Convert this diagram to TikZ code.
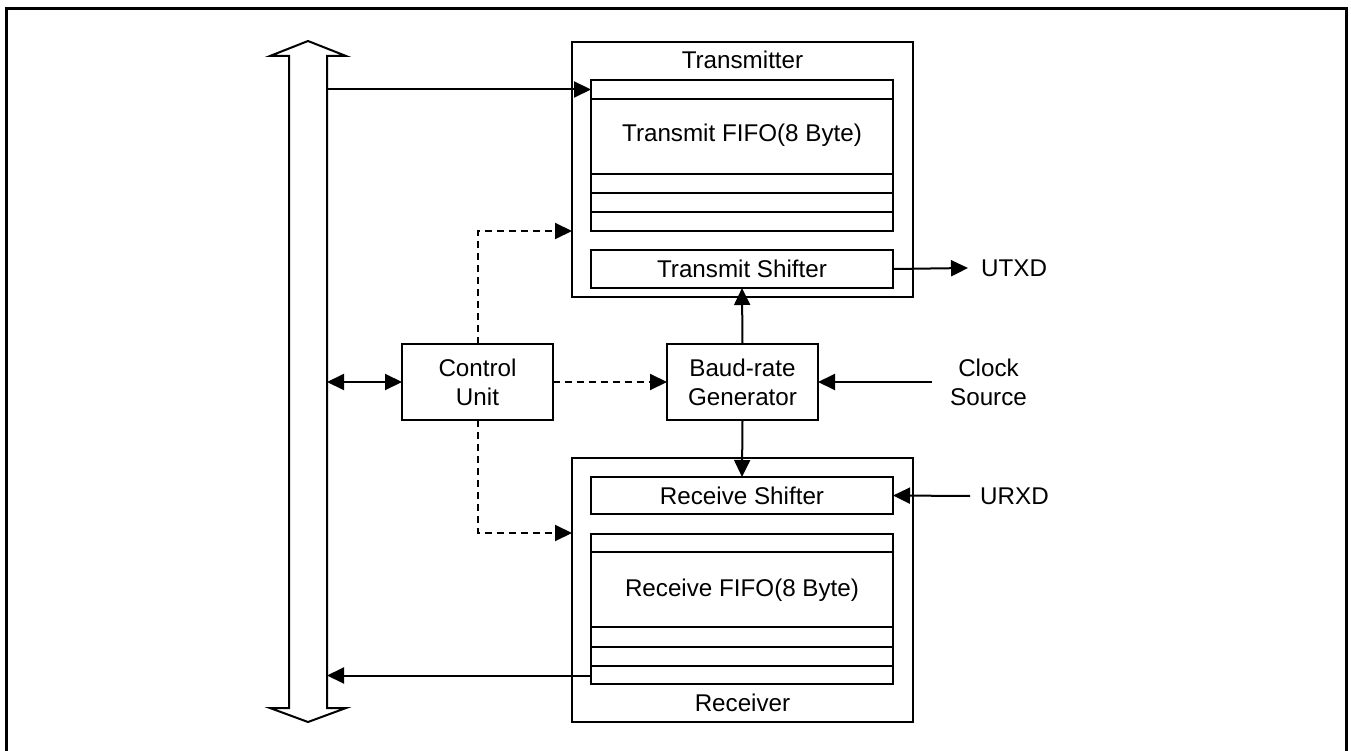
\documentclass[tikz,border=0pt]{standalone}
\usepackage{fontspec}
\setmainfont{Liberation Sans}
\usetikzlibrary{arrows.meta}

\tikzset{
  box/.style={draw, line width=2pt, inner sep=0pt, outer sep=0pt, align=center,
    font=\fontsize{24.2}{29}\selectfont},
  lbl/.style={inner sep=0pt, align=center, font=\fontsize{24.2}{29}\selectfont},
  sig/.style={line width=2pt, -{Triangle[length=17pt,width=16pt]}},
  ctl/.style={sig, dash pattern=on 7pt off 5pt},
}

\begin{document}
\begin{tikzpicture}[x=1pt,y=-1pt]
\useasboundingbox (0,0) rectangle (1351,751);
\draw[line width=3pt] (6,751) -- (6,9) -- (1346.5,9) -- (1346.5,751);
\draw[line width=2pt] (308,41) -- (346,56) -- (327,56) -- (327,708) -- (346,708) -- (308,722)
  -- (270,708) -- (289,708) -- (289,56) -- (270,56) -- cycle;
\coordinate (busr) at (327,382);

\node[box, minimum width=341pt, minimum height=255pt] (tx) at (742.5,169.5) {};
\node[lbl] (txlbl) at (742.5,60) {Transmitter};
\node[box, minimum width=302pt, minimum height=151pt] (txfifo) at (742,155.5) {};
\node[lbl] (txfifolbl) at (742,135) {Transmit FIFO(8 Byte)};
\foreach \d in {19,94,113,132}
  \draw[line width=2pt] ([yshift=-\d pt]txfifo.north west) -- ([yshift=-\d pt]txfifo.north east);
\node[box, minimum width=302pt, minimum height=38pt] (txshift) at (742,269) {Transmit Shifter};

\node[box, minimum width=341pt, minimum height=264pt] (rx) at (742.5,590) {};
\node[lbl] (rxlbl) at (742.5,703) {Receiver};
\node[box, minimum width=302pt, minimum height=37pt] (rxshift) at (742,495.5) {Receive Shifter};
\node[box, minimum width=302pt, minimum height=150pt] (rxfifo) at (742,609) {};
\node[lbl] (rxfifolbl) at (742,590) {Receive FIFO(8 Byte)};
\foreach \d in {18,93,113,132}
  \draw[line width=2pt] ([yshift=-\d pt]rxfifo.north west) -- ([yshift=-\d pt]rxfifo.north east);

\node[box, minimum width=151pt, minimum height=76pt] (ctrl) at (477.5,382) {Control\\Unit};
\node[box, minimum width=151pt, minimum height=76pt] (baud) at (742.5,382) {Baud-rate\\Generator};

\node[lbl, anchor=west] (utxd) at (981,268) {UTXD};
\node[lbl] (clk) at (988.5,382) {Clock\\Source};
\node[lbl, anchor=west] (urxd) at (980,496) {URXD};

\coordinate (txin) at ([yshift=-9.5pt]txfifo.north west);
\coordinate (rxout) at ([yshift=8.5pt]rxfifo.south west);
\coordinate (txctl) at ([yshift=66pt]tx.south west);
\coordinate (rxctl) at ([yshift=-75pt]rx.north west);
\coordinate (utxdend) at (968,268);
\coordinate (clkin) at (932,382);
\coordinate (urxdin) at (970,496);

\draw[sig] (busr |- txin) -- (txin);
\draw[line width=2pt, {Triangle[length=17pt,width=16pt]}-{Triangle[length=17pt,width=16pt]}] (busr) -- (ctrl.west);
\draw[sig] (rxout) -- (busr |- rxout);
\draw[ctl] (ctrl.north) |- (txctl);
\draw[ctl] (ctrl.south) |- (rxctl);
\draw[ctl] (ctrl.east) -- (baud.west);
\draw[sig] (baud.north) -- (txshift.south);
\draw[sig] (baud.south) -- (rxshift.north);
\draw[sig] (txshift.east) -- (utxdend);
\draw[sig] (clkin) -- (baud.east);
\draw[sig] (urxdin) -- (rxshift.east);
\end{tikzpicture}
\end{document}
